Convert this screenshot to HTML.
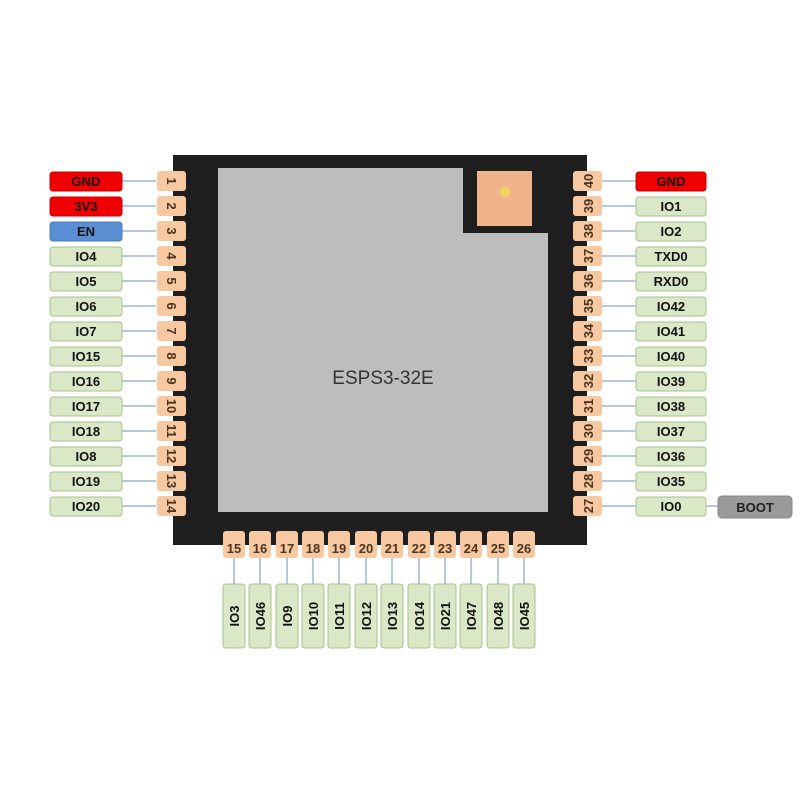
<!DOCTYPE html>
<html><head><meta charset="utf-8"><style>
body{margin:0;background:#fff}
text{font-family:"Liberation Sans",sans-serif;font-weight:bold}
</style></head><body>
<svg width="800" height="800" viewBox="0 0 800 800" xmlns="http://www.w3.org/2000/svg">
<rect x="173" y="155" width="414" height="390" fill="#1e1e1e"/>
<path d="M218 168 H463 V233 H548 V512 H218 Z" fill="#bdbdbd"/>
<rect x="477" y="171" width="55" height="55" fill="#f0b48a"/>
<circle cx="505" cy="192" r="5" fill="#f5d35a"/>
<text x="383" y="384" font-size="19" font-weight="normal" style="font-weight:normal" fill="#333" text-anchor="middle">ESPS3-32E</text>
<g stroke="#9bb6d6" stroke-width="1.5">
<path d="M122 181H156M122 206H156M122 231H156M122 256H156M122 281H156M122 306H156M122 331H156M122 356H156M122 381H156M122 406H156M122 431H156M122 456H156M122 481H156M122 506H156"/>
<path d="M601 181H636M601 206H636M601 231H636M601 256H636M601 281H636M601 306H636M601 331H636M601 356H636M601 381H636M601 406H636M601 431H636M601 456H636M601 481H636M601 506H636M706 506H718"/>
<path d="M234 557V584M260 557V584M287 557V584M313 557V584M339 557V584M366 557V584M392 557V584M419 557V584M445 557V584M471 557V584M498 557V584M524 557V584"/>
</g>
<g fill="#f8c8a0">
<rect x="157" y="171" width="29" height="20" rx="3"/><rect x="157" y="196" width="29" height="20" rx="3"/><rect x="157" y="221" width="29" height="20" rx="3"/><rect x="157" y="246" width="29" height="20" rx="3"/><rect x="157" y="271" width="29" height="20" rx="3"/><rect x="157" y="296" width="29" height="20" rx="3"/><rect x="157" y="321" width="29" height="20" rx="3"/><rect x="157" y="346" width="29" height="20" rx="3"/><rect x="157" y="371" width="29" height="20" rx="3"/><rect x="157" y="396" width="29" height="20" rx="3"/><rect x="157" y="421" width="29" height="20" rx="3"/><rect x="157" y="446" width="29" height="20" rx="3"/><rect x="157" y="471" width="29" height="20" rx="3"/><rect x="157" y="496" width="29" height="20" rx="3"/>
<rect x="573" y="171" width="29" height="20" rx="3"/><rect x="573" y="196" width="29" height="20" rx="3"/><rect x="573" y="221" width="29" height="20" rx="3"/><rect x="573" y="246" width="29" height="20" rx="3"/><rect x="573" y="271" width="29" height="20" rx="3"/><rect x="573" y="296" width="29" height="20" rx="3"/><rect x="573" y="321" width="29" height="20" rx="3"/><rect x="573" y="346" width="29" height="20" rx="3"/><rect x="573" y="371" width="29" height="20" rx="3"/><rect x="573" y="396" width="29" height="20" rx="3"/><rect x="573" y="421" width="29" height="20" rx="3"/><rect x="573" y="446" width="29" height="20" rx="3"/><rect x="573" y="471" width="29" height="20" rx="3"/><rect x="573" y="496" width="29" height="20" rx="3"/>
<rect x="223" y="531" width="22" height="27" rx="3"/><rect x="249" y="531" width="22" height="27" rx="3"/><rect x="276" y="531" width="22" height="27" rx="3"/><rect x="302" y="531" width="22" height="27" rx="3"/><rect x="328" y="531" width="22" height="27" rx="3"/><rect x="355" y="531" width="22" height="27" rx="3"/><rect x="381" y="531" width="22" height="27" rx="3"/><rect x="408" y="531" width="22" height="27" rx="3"/><rect x="434" y="531" width="22" height="27" rx="3"/><rect x="460" y="531" width="22" height="27" rx="3"/><rect x="487" y="531" width="22" height="27" rx="3"/><rect x="513" y="531" width="22" height="27" rx="3"/>
</g>
<g font-size="13" fill="#4a3520" style="font-weight:normal" text-anchor="middle">
<text transform="translate(172,181) rotate(90)" y="5">1</text><text transform="translate(172,206) rotate(90)" y="5">2</text><text transform="translate(172,231) rotate(90)" y="5">3</text><text transform="translate(172,256) rotate(90)" y="5">4</text><text transform="translate(172,281) rotate(90)" y="5">5</text><text transform="translate(172,306) rotate(90)" y="5">6</text><text transform="translate(172,331) rotate(90)" y="5">7</text><text transform="translate(172,356) rotate(90)" y="5">8</text><text transform="translate(172,381) rotate(90)" y="5">9</text><text transform="translate(172,406) rotate(90)" y="5">10</text><text transform="translate(172,431) rotate(90)" y="5">11</text><text transform="translate(172,456) rotate(90)" y="5">12</text><text transform="translate(172,481) rotate(90)" y="5">13</text><text transform="translate(172,506) rotate(90)" y="5">14</text>
<text transform="translate(588,181) rotate(-90)" y="5">40</text><text transform="translate(588,206) rotate(-90)" y="5">39</text><text transform="translate(588,231) rotate(-90)" y="5">38</text><text transform="translate(588,256) rotate(-90)" y="5">37</text><text transform="translate(588,281) rotate(-90)" y="5">36</text><text transform="translate(588,306) rotate(-90)" y="5">35</text><text transform="translate(588,331) rotate(-90)" y="5">34</text><text transform="translate(588,356) rotate(-90)" y="5">33</text><text transform="translate(588,381) rotate(-90)" y="5">32</text><text transform="translate(588,406) rotate(-90)" y="5">31</text><text transform="translate(588,431) rotate(-90)" y="5">30</text><text transform="translate(588,456) rotate(-90)" y="5">29</text><text transform="translate(588,481) rotate(-90)" y="5">28</text><text transform="translate(588,506) rotate(-90)" y="5">27</text>
<text x="234" y="553">15</text><text x="260" y="553">16</text><text x="287" y="553">17</text><text x="313" y="553">18</text><text x="339" y="553">19</text><text x="366" y="553">20</text><text x="392" y="553">21</text><text x="419" y="553">22</text><text x="445" y="553">23</text><text x="471" y="553">24</text><text x="498" y="553">25</text><text x="524" y="553">26</text>
</g>
<g stroke="#a9c18a" stroke-width="1" fill="#dbe8c8">
<rect x="50" y="172" width="72" height="19" rx="3" fill="#f00000" stroke="#c00"/>
<rect x="50" y="197" width="72" height="19" rx="3" fill="#f00000" stroke="#c00"/>
<rect x="50" y="222" width="72" height="19" rx="3" fill="#5b8fd4" stroke="#4a7ac0"/>
<rect x="50" y="247" width="72" height="19" rx="3"/><rect x="50" y="272" width="72" height="19" rx="3"/><rect x="50" y="297" width="72" height="19" rx="3"/><rect x="50" y="322" width="72" height="19" rx="3"/><rect x="50" y="347" width="72" height="19" rx="3"/><rect x="50" y="372" width="72" height="19" rx="3"/><rect x="50" y="397" width="72" height="19" rx="3"/><rect x="50" y="422" width="72" height="19" rx="3"/><rect x="50" y="447" width="72" height="19" rx="3"/><rect x="50" y="472" width="72" height="19" rx="3"/><rect x="50" y="497" width="72" height="19" rx="3"/>
<rect x="636" y="172" width="70" height="19" rx="3" fill="#f00000" stroke="#c00"/>
<rect x="636" y="197" width="70" height="19" rx="3"/><rect x="636" y="222" width="70" height="19" rx="3"/><rect x="636" y="247" width="70" height="19" rx="3"/><rect x="636" y="272" width="70" height="19" rx="3"/><rect x="636" y="297" width="70" height="19" rx="3"/><rect x="636" y="322" width="70" height="19" rx="3"/><rect x="636" y="347" width="70" height="19" rx="3"/><rect x="636" y="372" width="70" height="19" rx="3"/><rect x="636" y="397" width="70" height="19" rx="3"/><rect x="636" y="422" width="70" height="19" rx="3"/><rect x="636" y="447" width="70" height="19" rx="3"/><rect x="636" y="472" width="70" height="19" rx="3"/><rect x="636" y="497" width="70" height="19" rx="3"/>
<rect x="718" y="496" width="74" height="22" rx="4" fill="#9a9a9a" stroke="#888"/>
<rect x="223" y="584" width="22" height="64" rx="3"/><rect x="249" y="584" width="22" height="64" rx="3"/><rect x="276" y="584" width="22" height="64" rx="3"/><rect x="302" y="584" width="22" height="64" rx="3"/><rect x="328" y="584" width="22" height="64" rx="3"/><rect x="355" y="584" width="22" height="64" rx="3"/><rect x="381" y="584" width="22" height="64" rx="3"/><rect x="408" y="584" width="22" height="64" rx="3"/><rect x="434" y="584" width="22" height="64" rx="3"/><rect x="460" y="584" width="22" height="64" rx="3"/><rect x="487" y="584" width="22" height="64" rx="3"/><rect x="513" y="584" width="22" height="64" rx="3"/>
</g>
<g font-size="13" fill="#111" text-anchor="middle">
<text x="86" y="186">GND</text><text x="86" y="211">3V3</text><text x="86" y="236">EN</text><text x="86" y="261">IO4</text><text x="86" y="286">IO5</text><text x="86" y="311">IO6</text><text x="86" y="336">IO7</text><text x="86" y="361">IO15</text><text x="86" y="386">IO16</text><text x="86" y="411">IO17</text><text x="86" y="436">IO18</text><text x="86" y="461">IO8</text><text x="86" y="486">IO19</text><text x="86" y="511">IO20</text>
<text x="671" y="186">GND</text><text x="671" y="211">IO1</text><text x="671" y="236">IO2</text><text x="671" y="261">TXD0</text><text x="671" y="286">RXD0</text><text x="671" y="311">IO42</text><text x="671" y="336">IO41</text><text x="671" y="361">IO40</text><text x="671" y="386">IO39</text><text x="671" y="411">IO38</text><text x="671" y="436">IO37</text><text x="671" y="461">IO36</text><text x="671" y="486">IO35</text><text x="671" y="511">IO0</text>
<text x="755" y="512" fill="#222">BOOT</text>
<text transform="translate(234,616) rotate(-90)" y="5">IO3</text><text transform="translate(260,616) rotate(-90)" y="5">IO46</text><text transform="translate(287,616) rotate(-90)" y="5">IO9</text><text transform="translate(313,616) rotate(-90)" y="5">IO10</text><text transform="translate(339,616) rotate(-90)" y="5">IO11</text><text transform="translate(366,616) rotate(-90)" y="5">IO12</text><text transform="translate(392,616) rotate(-90)" y="5">IO13</text><text transform="translate(419,616) rotate(-90)" y="5">IO14</text><text transform="translate(445,616) rotate(-90)" y="5">IO21</text><text transform="translate(471,616) rotate(-90)" y="5">IO47</text><text transform="translate(498,616) rotate(-90)" y="5">IO48</text><text transform="translate(524,616) rotate(-90)" y="5">IO45</text>
</g>
</svg>
</body></html>
